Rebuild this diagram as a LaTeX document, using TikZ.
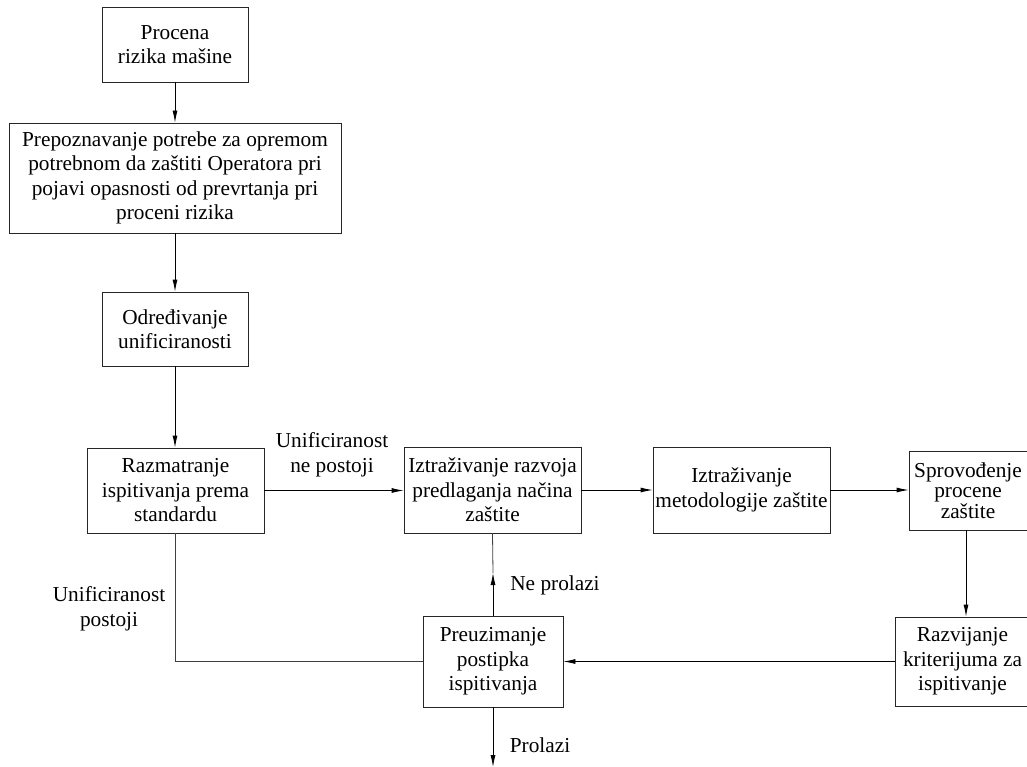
\documentclass[tikz,border=0pt]{standalone}
\usepackage{fontspec}
\setmainfont{Liberation Serif}
\usetikzlibrary{arrows.meta}
\begin{document}
\begin{tikzpicture}[x=1pt,y=-1pt,
  box/.style={draw=black!85,line width=0.8pt,rectangle,align=center,inner sep=0pt,
    font=\fontsize{21.3}{24.5}\selectfont},
  lbl/.style={align=center,inner sep=0pt,font=\fontsize{21.3}{24.5}\selectfont},
  arr/.style={-{Latex[length=12pt,width=5pt]},line width=0.8pt},
  ln/.style={line width=0.8pt,draw=black!75}]
\useasboundingbox (0,0) rectangle (1027,767);
\clip (0,0) rectangle (1027,767);
\node[box,minimum width=146pt,minimum height=75pt] (b1) at (175,44.5) {Procena\\rizika mašine};
\node[box,minimum width=332pt,minimum height=110pt] (b2) at (175,178) {Prepoznavanje potrebe za opremom\\potrebnom da zaštiti Operatora pri\\pojavi opasnosti od prevrtanja pri\\proceni rizika};
\node[box,minimum width=146pt,minimum height=74pt] (b3) at (175,329) {Određivanje\\unificiranosti};
\node[box,minimum width=177pt,minimum height=85pt] (b4) at (175.5,490.5) {Razmatranje\\ispitivanja prema\\standardu};
\node[box,minimum width=177pt,minimum height=86pt] (b5) at (492.5,490) {Iztraživanje razvoja\\predlaganja načina\\zaštite};
\node[box,minimum width=177pt,minimum height=86pt] (b6) at (741.5,490) {Iztraživanje\\metodologije zaštite};
\node[box,minimum width=118pt,minimum height=79pt,font=\fontsize{21.3}{20.5}\selectfont] (b7) at (968,490.5) {Sprovođenje\\procene\\zaštite};
\node[box,minimum width=135pt,minimum height=89pt] (b8) at (962.5,661.5) {Razvijanje\\kriterijuma za\\ispitivanje};
\node[box,minimum width=140pt,minimum height=91pt] (b9) at (493,661.5) {Preuzimanje\\postipka\\ispitivanja};

\node[lbl] (l1) at (332,455) {Unificiranost\\ne postoji};
\node[lbl] (l2) at (109,609) {Unificiranost\\postoji};
\node[lbl] (l3) at (555,585) {Ne prolazi};
\node[lbl] (l4) at (540,745) {Prolazi};

\coordinate (np) at (493,573);
\coordinate (out) at (493,767);

\draw[arr] (b1.south) -- (b2.north);
\draw[arr] (b2.south) -- (b3.north);
\draw[arr] (b3.south) -- (b3.south |- b4.north);
\draw[arr] (b4.east) -- (b4.east -| b5.west);
\draw[arr] (b5.east) -- (b5.east -| b6.west);
\draw[arr] (b6.east) -- (b6.east -| b7.west);
\draw[arr] ([xshift=-2pt]b7.south) -- ([xshift=-2pt]b7.south |- b8.north);
\draw[arr] (b8.west) -- (b8.west -| b9.east);
\draw[arr] (b9.north) -- (np);
\draw[ln] (np) -- (b5.south);
\draw[arr] (b9.south) -- (out);
\draw[ln] (b4.south) |- (b9.west);
\end{tikzpicture}
\end{document}
